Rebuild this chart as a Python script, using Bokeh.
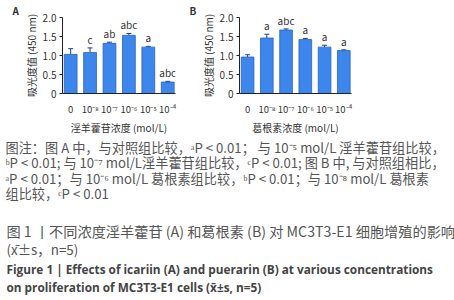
from bokeh.plotting import figure
from bokeh.layouts import column, row
from bokeh.models import Range1d, FixedTicker, Label, ColumnDataSource, Whisker
from bokeh.embed import file_html
from bokeh.resources import INLINE
from bokeh.core.properties import value

# ---- data ----
tick_labels = ["0", "10⁻⁸", "10⁻⁷", "10⁻⁶", "10⁻⁵", "10⁻⁴"]
a_values = [1.03, 1.08, 1.32, 1.53, 1.22, 0.30]
a_errors = [0.15, 0.12, 0.03, 0.05, 0.02, 0.02]
a_marks = ["", "c", "ab", "abc", "a", "abc"]
b_values = [0.96, 1.46, 1.67, 1.42, 1.22, 1.13]
b_errors = [0.06, 0.10, 0.03, 0.03, 0.05, 0.02]
b_marks = ["", "a", "abc", "a", "a", "a"]
y_ticks = [0, 0.5, 1.0, 1.5, 2.0]
y_tick_labels = ["0", "0.5", "1.0", "1.5", "2.0"]
panel_letters = ["A", "B"]

caption_lines = [
    "图注：图  A  中，与对照组比较，ᵃP < 0.01；  与  10⁻⁵  mol/L  淫羊藿苷组比较，",
    "ᵇP < 0.01; 与 10⁻⁷ mol/L淫羊藿苷组比较，ᶜP < 0.01; 图 B 中, 与对照组相比，",
    "ᵃP < 0.01；与 10⁻⁶ mol/L 葛根素组比较，ᵇP < 0.01；与 10⁻⁸ mol/L 葛根素",
    "组比较，ᶜP < 0.01",
]
title_lines = [
    "图 1  丨不同浓度淫羊藿苷 (A) 和葛根素 (B) 对 MC3T3-E1 细胞增殖的影响",
    "(x̄±s，n=5)",
]
en_lines = [
    "Figure 1  |  Effects of icariin (A) and puerarin (B) at various concentrations",
    "on proliferation of MC3T3-E1 cells (x̄±s, n=5)",
]

BAR = "#3d86ec"
EDGE = "#2a62c0"
FONT = "Noto Sans CJK SC"
TXT = "#333333"
TOP_H = 137


def style_title(f, letter, offset):
    f.title.text = letter
    f.title.align = "left"
    f.title.offset = offset
    f.title.standoff = 0
    f.title.text_font = FONT
    f.title.text_font_size = "10px"
    f.title.text_font_style = "bold"
    f.title.text_color = TXT


def letter_fig(letter, width, offset):
    f = figure(width=width, height=TOP_H, output_backend="svg", toolbar_location=None,
               x_range=Range1d(0, 1), y_range=Range1d(0, 1),
               min_border_left=0, min_border_right=0,
               min_border_top=14, min_border_bottom=0)
    f.axis.visible = False
    f.grid.visible = False
    f.outline_line_color = None
    style_title(f, letter, offset)
    return f


def make_panel(vals, errs, marks, xlabel, width, left, right):
    p = figure(width=width, height=TOP_H, output_backend="svg", toolbar_location=None,
               x_range=Range1d(-0.42, 5.4), y_range=Range1d(0, 2.0),
               min_border_left=left, min_border_right=right,
               min_border_top=14, min_border_bottom=28)
    xs = list(range(len(vals)))
    tops = [v + e for v, e in zip(vals, errs)]
    src = ColumnDataSource(dict(x=xs, top=vals, up=tops, mark=marks))
    p.vbar(x="x", top="top", bottom=0, width=0.66, source=src,
           fill_color=BAR, line_color=EDGE, line_width=0.8)
    w = Whisker(base="x", upper="up", lower="top", source=src,
                line_color="#1d3f80", line_width=1)
    w.upper_head.size = 5
    w.upper_head.line_color = "#1d3f80"
    w.lower_head = None
    p.add_layout(w)
    p.text(x="x", y="up", text="mark", source=src, text_align="center",
           text_baseline="bottom", y_offset=-1, text_font_size="10px",
           text_color=TXT, text_font=value(FONT))
    p.grid.visible = False
    p.outline_line_color = None
    p.background_fill_color = "white"
    p.border_fill_color = "white"
    # x axis
    p.xaxis.ticker = FixedTicker(ticks=xs)
    p.xaxis.major_label_overrides = {i: t for i, t in enumerate(tick_labels)}
    p.xaxis.major_tick_line_color = None
    p.xaxis.minor_tick_line_color = None
    p.xaxis.major_label_text_font_size = "9.5px"
    p.xaxis.major_label_text_font = FONT
    p.xaxis.major_label_text_color = TXT
    p.xaxis.major_label_standoff = 2
    p.xaxis.axis_label = xlabel
    p.xaxis.axis_label_text_font = FONT
    p.xaxis.axis_label_text_font_size = "10px"
    p.xaxis.axis_label_text_font_style = "normal"
    p.xaxis.axis_label_text_color = TXT
    p.xaxis.axis_label_standoff = 1
    p.xaxis.axis_line_color = "#222222"
    # y axis
    p.yaxis.ticker = FixedTicker(ticks=y_ticks)
    p.yaxis.major_label_overrides = {t: l for t, l in zip(y_ticks, y_tick_labels)}
    p.yaxis.minor_tick_line_color = None
    p.yaxis.major_tick_in = 0
    p.yaxis.major_tick_out = 3
    p.yaxis.major_tick_line_color = "#222222"
    p.yaxis.axis_line_color = "#222222"
    p.yaxis.major_label_text_font_size = "10px"
    p.yaxis.major_label_text_font = FONT
    p.yaxis.major_label_text_color = TXT
    p.yaxis.major_label_standoff = 3
    p.yaxis.axis_label = "吸光度值 (450 nm)"
    p.yaxis.axis_label_text_font = FONT
    p.yaxis.axis_label_text_font_size = "10px"
    p.yaxis.axis_label_text_font_style = "normal"
    p.yaxis.axis_label_text_color = TXT
    p.yaxis.axis_label_standoff = 1
    return p


fA = letter_fig(panel_letters[0], 20, 12)
pA = make_panel(a_values, a_errors, a_marks, "淫羊藿苷浓度 (mol/L)", 169, 39, 14)
fB = letter_fig(panel_letters[1], 8, 0)
pB = make_panel(b_values, b_errors, b_marks, "葛根素浓度 (mol/L)", 257, 38, 103)

PT_H = 300 - TOP_H
pT = figure(width=454, height=PT_H, output_backend="svg", toolbar_location=None,
            x_range=Range1d(0, 454), y_range=Range1d(PT_H, 0),
            min_border=0)
pT.axis.visible = False
pT.grid.visible = False
pT.outline_line_color = None
pT.border_fill_color = "white"


def add_line(t, yy, x0, size, font="Noto Sans CJK SC", style="normal", color="#555555"):
    pT.add_layout(Label(x=x0, y=PT_H - (yy - TOP_H), x_units="screen", y_units="screen",
                        text=t, text_font=font, text_font_size=size,
                        text_font_style=style, text_color=color,
                        text_baseline="middle"))


for t, yy in zip(caption_lines, [146.5, 162, 177.5, 193]):
    add_line(t, yy, 5, "13.2px")
add_line(title_lines[0], 230, 6, "14.2px")
add_line(title_lines[1], 248, 6, "13.4px")
for t, yy in zip(en_lines, [268, 286]):
    add_line(t, yy, 6, "11.8px", font="Open Sans", style="bold", color="#444444")

layout = column(row(fA, pA, fB, pB), pT)
open("out.html", "w").write(file_html(layout, INLINE))
